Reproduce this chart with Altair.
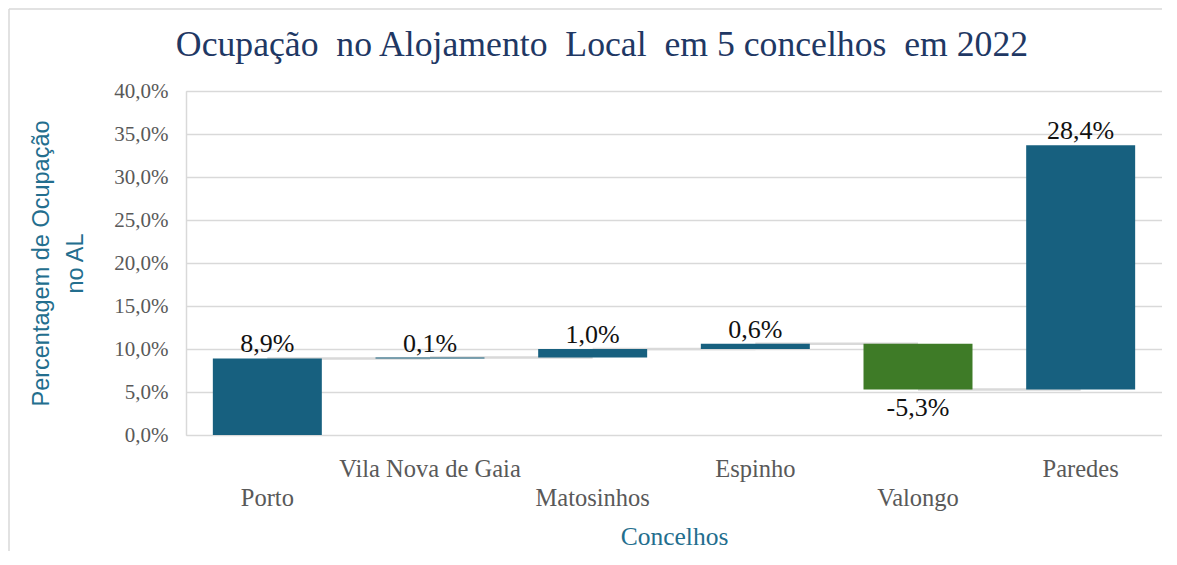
import altair as alt
import pandas as pd

categories = ["Porto", "Vila Nova de Gaia", "Matosinhos", "Espinho", "Valongo", "Paredes"]
changes = [8.9, 0.1, 1.0, 0.6, -5.3, 28.4]
lower_row = ["Porto", "Matosinhos", "Valongo"]
y_ticks = [0, 5, 10, 15, 20, 25, 30, 35, 40]
title_text = "Ocupação\u00a0 no Alojamento\u00a0 Local\u00a0 em 5 concelhos\u00a0 em 2022"

rows = []
total = 0.0
for c, v in zip(categories, changes):
    start = total
    total = round(total + v, 2)
    rows.append({"cat": c, "change": v, "start": start, "end": total,
                 "top": max(start, total), "bottom": min(start, total),
                 "sign": "pos" if v >= 0 else "neg",
                 "lbl": f"{v:.1f}".replace(".", ",") + "%"})
df = pd.DataFrame(rows)
conn = pd.DataFrame([{"cat": categories[i], "next": categories[i + 1], "level": rows[i]["end"]}
                     for i in range(len(categories) - 1)])

SERIF = "Liberation Serif"
BLUE = "#17607f"
GREEN = "#3e7b27"
TEAL = "#236e8e"

xscale = alt.Scale(domain=categories, paddingInner=0.33, paddingOuter=0.165)
yscale = alt.Scale(domain=[0, 40])

lower_list = "[" + ",".join("'" + s + "'" for s in lower_row) + "]"

x_axis = alt.Axis(
    title="Concelhos", labelAngle=0, ticks=False, domain=False, grid=False,
    labelFont=SERIF, labelFontSize=24.5, labelColor="#595959", labelPadding=22,
    labelLineHeight=29, labelLimit=400,
    labelExpr="indexof(" + lower_list + ", datum.value) >= 0 ? ['', datum.value] : datum.value",
    titleFont=SERIF, titleFontSize=25.5, titleFontWeight="normal", titleColor=TEAL, titlePadding=15,
)
y_axis = alt.Axis(
    title=["Percentagem de Ocupação", "no AL"], values=y_ticks, ticks=False,
    domainColor="#d9d9d9", domainWidth=1.5, gridColor="#d9d9d9", gridWidth=1.5,
    labelFont=SERIF, labelFontSize=21, labelColor="#595959", labelPadding=18,
    labelExpr="replace(format(datum.value, '.1f'), '.', ',') + '%'",
    titleFont="Liberation Sans", titleFontSize=23.5, titleFontWeight="normal", titleColor=TEAL,
    titleLineHeight=34, titlePadding=26,
)

base = alt.Chart(df)

connectors = alt.Chart(conn).mark_rule(color="#d9d9d9", strokeWidth=2.5).encode(
    x=alt.X("cat:N", scale=xscale, axis=x_axis, sort=categories),
    x2="next:N",
    y=alt.Y("level:Q", scale=yscale, axis=y_axis),
)

bars = base.mark_bar().encode(
    x=alt.X("cat:N", scale=xscale, sort=categories),
    y=alt.Y("start:Q", scale=yscale),
    y2="end:Q",
    color=alt.Color("sign:N", scale=alt.Scale(domain=["pos", "neg"], range=[BLUE, GREEN]), legend=None),
)

pos_labels = base.transform_filter("datum.change >= 0").mark_text(
    font=SERIF, fontSize=26, color="#111111", baseline="alphabetic", dy=-6
).encode(x=alt.X("cat:N", scale=xscale, sort=categories), y=alt.Y("top:Q", scale=yscale), text="lbl:N")
neg_labels = base.transform_filter("datum.change < 0").mark_text(
    font=SERIF, fontSize=26, color="#111111", baseline="middle", dy=19
).encode(x=alt.X("cat:N", scale=xscale, sort=categories), y=alt.Y("bottom:Q", scale=yscale), text="lbl:N")

one = alt.Data(values=[{}])
title = alt.Chart(one).mark_text(
    text=title_text, font=SERIF, fontSize=35.7, color="#1f3864", align="center", baseline="alphabetic"
).encode(x=alt.value(416), y=alt.value(-35))
border = alt.Chart(one).mark_rule(color="#d9d9d9", strokeWidth=1.5).encode(
    x=alt.value(-177), y=alt.value(-82), y2=alt.value(460)
)
border_top = alt.Chart(one).mark_rule(color="#d9d9d9", strokeWidth=1.5).encode(
    x=alt.value(-177), x2=alt.value(976), y=alt.value(-82)
)

chart = alt.layer(connectors, bars, pos_labels, neg_labels, title, border, border_top).properties(
    width=976, height=344,
    padding={"left": 178, "top": 83, "right": 0, "bottom": 116},
    autosize=alt.AutoSizeParams(type="none"),
).configure_view(stroke=None).configure(background="white")

chart.save("out.html", embed_options={"renderer": "svg", "actions": False})
